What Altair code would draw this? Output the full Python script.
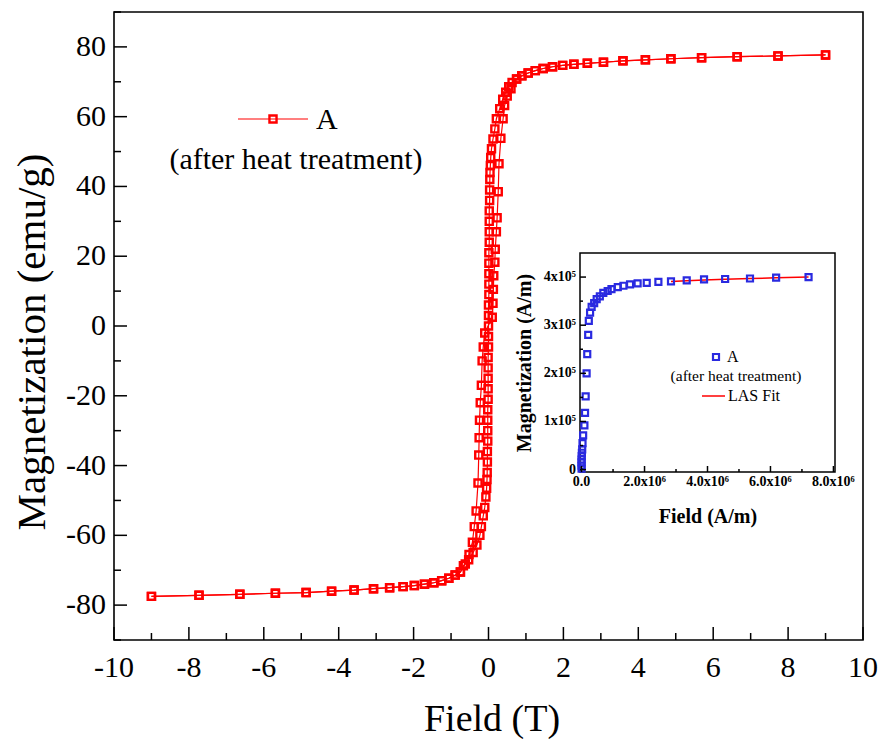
import altair as alt
import pandas as pd

# ---------------- main plot data (Field in T, Magnetization in emu/g) ----------------
tail_pos_H = [9.0, 7.73, 6.64, 5.69, 4.87, 4.19, 3.59, 3.07, 2.64, 2.28, 1.98, 1.71, 1.46, 1.25, 1.06, 0.89, 0.75]
tail_pos_M = [77.7, 77.4, 77.2, 76.9, 76.6, 76.3, 76.0, 75.6, 75.3, 75.0, 74.7, 74.3, 73.8, 73.2, 72.5, 71.7, 70.8]
tail_neg_H = [-0.75, -0.89, -1.06, -1.25, -1.46, -1.71, -1.98, -2.28, -2.64, -3.07, -3.59, -4.19, -4.87, -5.69, -6.64, -7.73, -9.0]
tail_neg_M = [-70.5, -71.4, -72.3, -73.0, -73.6, -74.0, -74.4, -74.7, -75.0, -75.3, -75.7, -76.0, -76.4, -76.6, -76.9, -77.2, -77.5]

core_dense_H = [0.63, 0.54, 0.46, 0.38, 0.30, 0.21, 0.17, 0.12, 0.08, 0.06, 0.05, 0.04, 0.035,
                0.03, 0.03, 0.02, 0.02, 0.02, 0.02, 0.01, 0.01, 0.01, 0.01, 0.01, 0.0, 0.0, 0.0,
                0.0, 0.0, -0.01, -0.01, -0.01, -0.01, -0.01, -0.02, -0.02, -0.02, -0.02, -0.03, -0.03,
                -0.035, -0.04, -0.05, -0.07, -0.10, -0.14, -0.19, -0.23, -0.31, -0.41, -0.53, -0.67]
core_dense_M = [69.8, 68.6, 67.0, 65.0, 62.3, 59.4, 56.5, 53.6, 50.8, 48.3, 46.0, 44.0, 42.0,
                39, 36, 33, 30, 27, 24, 21, 18, 15, 12, 9, 6, 3, 0,
                -3, -6, -9, -12, -15, -18, -21, -24, -27, -30, -33, -36, -39,
                -42.0, -44.0, -46.5, -49.0, -52.0, -54.4, -57.5, -60.0, -62.8, -64.9, -67.0, -68.7]

core_sparse_H = [-0.62, -0.52, -0.43, -0.38, -0.33, -0.28, -0.26, -0.25, -0.24, -0.22, -0.19, -0.17, -0.14, -0.10,
                 0.10, 0.12, 0.13, 0.14, 0.17, 0.18, 0.21, 0.23, 0.26, 0.28, 0.33, 0.39, 0.43, 0.50, 0.60]
core_sparse_M = [-68.2, -65.5, -62.0, -57.5, -53.0, -45.0, -37.0, -32.0, -27.0, -22.0, -17.0, -10.0, -6.0, -2.0,
                 2.5, 6.5, 10.5, 14.4, 18.3, 22.0, 27.0, 31.0, 38.5, 46.5, 53.8, 59.4, 63.2, 65.9, 68.0]

# ---------------- inset data (Field in 1e6 A/m, Magnetization in 1e5 A/m) ----------------
inset_H_1e6 = [0.0, 0.0, 0.0, 0.0, 0.005, 0.01, 0.02, 0.03, 0.05, 0.09, 0.11, 0.13, 0.16, 0.18, 0.21, 0.23,
               0.27, 0.32, 0.40, 0.48, 0.58, 0.69, 0.83, 0.95, 1.15, 1.33, 1.54, 1.78, 2.07, 2.44, 2.84,
               3.34, 3.89, 4.56, 5.35, 6.18, 7.21]
inset_M_1e5 = [0.02, 0.08, 0.15, 0.21, 0.28, 0.35, 0.42, 0.55, 0.71, 0.92, 1.18, 1.52, 2.00, 2.40, 2.80, 3.09,
               3.26, 3.38, 3.46, 3.54, 3.60, 3.67, 3.71, 3.75, 3.79, 3.82, 3.85, 3.87, 3.88, 3.90, 3.91,
               3.93, 3.95, 3.96, 3.97, 3.99, 4.00]
fit_H_1e6 = [2.84, 3.34, 3.89, 4.56, 5.35, 6.18, 7.21]
fit_M_1e5 = [3.908, 3.922, 3.937, 3.953, 3.968, 3.984, 4.000]

# ticks and tick labels
main_x_major = [-10, -8, -6, -4, -2, 0, 2, 4, 6, 8, 10]
main_x_labels = ["-10", "-8", "-6", "-4", "-2", "0", "2", "4", "6", "8", "10"]
main_x_minor = [-9, -7, -5, -3, -1, 1, 3, 5, 7, 9]
main_y_major = [-80, -60, -40, -20, 0, 20, 40, 60, 80]
main_y_labels = ["-80", "-60", "-40", "-20", "0", "20", "40", "60", "80"]
main_y_minor = [-90, -70, -50, -30, -10, 10, 30, 50, 70, 90]
inset_x_major = [0, 2e6, 4e6, 6e6, 8e6]
inset_x_labels = ["0.0", "2.0x10⁶", "4.0x10⁶", "6.0x10⁶", "8.0x10⁶"]
inset_x_minor = [1e6, 3e6, 5e6, 7e6]
inset_y_major = [0, 1e5, 2e5, 3e5, 4e5]
inset_y_labels = ["0", "1x10⁵", "2x10⁵", "3x10⁵", "4x10⁵"]
inset_y_minor = [0.5e5, 1.5e5, 2.5e5, 3.5e5]

RED = "#ff0000"
BLUE = "#2a2ae0"
FONT = "Liberation Serif"
W, H = 749, 628
PAD_L = 106
# inset frame in view pixels
IX0, IX1 = 466, 721
IY0, IY1 = 460, 241

# ---------------- build tables ----------------
desc_H = tail_pos_H + core_dense_H + tail_neg_H
desc_M = tail_pos_M + core_dense_M + tail_neg_M
asc_H = tail_neg_H[::-1] + core_sparse_H + tail_pos_H[::-1]
asc_M = tail_neg_M[::-1] + core_sparse_M + tail_pos_M[::-1]
main_df = pd.DataFrame({
    "H": desc_H + asc_H,
    "M": desc_M + asc_M,
    "branch": ["desc"] * len(desc_H) + ["asc"] * len(asc_H),
    "i": list(range(len(desc_H))) + list(range(len(asc_H))),
})
inset_df = pd.DataFrame({"H": [v * 1e6 for v in inset_H_1e6], "M": [v * 1e5 for v in inset_M_1e5]})
fit_df = pd.DataFrame({"H": [v * 1e6 for v in fit_H_1e6], "M": [v * 1e5 for v in fit_M_1e5]})

xs = alt.Scale(domain=[-10, 10], nice=False, zero=False)
ys = alt.Scale(domain=[-90, 90], nice=False, zero=False)
xi = alt.Scale(domain=[-0.05e6, 8.05e6], range=[IX0, IX1], nice=False, zero=False)
yi = alt.Scale(domain=[-5e3, 4.5e5], range=[IY0, IY1], nice=False, zero=False)


def vticks(vals, scale, y0, y1):
    return alt.Chart(pd.DataFrame({"v": vals})).mark_rule(color="black", strokeWidth=1.5).encode(
        x=alt.X("v:Q", scale=scale, axis=None), y=alt.value(y0), y2=alt.value(y1))


def hticks(vals, scale, x0, x1):
    return alt.Chart(pd.DataFrame({"v": vals})).mark_rule(color="black", strokeWidth=1.5).encode(
        y=alt.Y("v:Q", scale=scale, axis=None), x=alt.value(x0), x2=alt.value(x1))


def xlabels(vals, labels, scale, ypos, size, weight="normal"):
    return alt.Chart(pd.DataFrame({"v": vals, "t": labels})).mark_text(
        font=FONT, fontSize=size, fontWeight=weight, align="center", baseline="middle", color="black").encode(
        x=alt.X("v:Q", scale=scale, axis=None), y=alt.value(ypos), text="t:N")


def ylabels(vals, labels, scale, xpos, size, weight="normal"):
    return alt.Chart(pd.DataFrame({"v": vals, "t": labels})).mark_text(
        font=FONT, fontSize=size, fontWeight=weight, align="right", baseline="middle", color="black").encode(
        y=alt.Y("v:Q", scale=scale, axis=None), x=alt.value(xpos), text="t:N")


one = pd.DataFrame({"k": [0]})


def label(text, x, y, size, weight="normal", align="center", angle=0):
    return alt.Chart(one).mark_text(text=text, font=FONT, fontSize=size, fontWeight=weight, align=align,
                                    baseline="middle", angle=angle, color="black").encode(
        x=alt.value(x), y=alt.value(y))


# ---------------- main layers ----------------
main_line = alt.Chart(main_df).mark_line(color=RED, strokeWidth=1.2).encode(
    x=alt.X("H:Q", scale=xs, axis=None),
    y=alt.Y("M:Q", scale=ys, axis=None),
    detail="branch:N",
    order="i:Q",
)
main_pts = alt.Chart(main_df).mark_point(shape="square", filled=False, color=RED, size=50,
                                         strokeWidth=2.4, opacity=1).encode(
    x=alt.X("H:Q", scale=xs, axis=None),
    y=alt.Y("M:Q", scale=ys, axis=None),
)

leg_rule = alt.Chart(one).mark_rule(color=RED, strokeWidth=1.2).encode(
    x=alt.value(124), x2=alt.value(194), y=alt.value(107))
leg_pt = alt.Chart(one).mark_point(shape="square", filled=False, color=RED, size=50, strokeWidth=2.4,
                                   opacity=1).encode(x=alt.value(159), y=alt.value(107))

main = alt.layer(
    main_line, main_pts,
    vticks(main_x_major, xs, H, H - 13), vticks(main_x_minor, xs, H, H - 7),
    hticks(main_y_major, ys, 0, 13), hticks(main_y_minor, ys, 0, 7),
    xlabels(main_x_major, main_x_labels, xs, H + 28, 30),
    ylabels(main_y_major, main_y_labels, ys, -8, 30),
    label("Field (T)", 378, 708, 38),
    label("Magnetization (emu/g)", -81, 330, 41, angle=270),
    leg_rule, leg_pt,
    label("A", 202, 108, 30, align="left"),
    label("(after heat treatment)", 182, 148, 30),
)

# ---------------- inset layers ----------------
frame_df = pd.DataFrame({"x0": [-0.05e6], "x1": [8.05e6], "y0": [-5e3], "y1": [4.5e5]})
in_frame = alt.Chart(frame_df).mark_rect(fill="white", stroke="black", strokeWidth=1.5).encode(
    x=alt.X("x0:Q", scale=xi, axis=None), x2="x1:Q",
    y=alt.Y("y0:Q", scale=yi, axis=None), y2="y1:Q")
in_fit = alt.Chart(fit_df).mark_line(color=RED, strokeWidth=1.5).encode(
    x=alt.X("H:Q", scale=xi, axis=None), y=alt.Y("M:Q", scale=yi, axis=None))
in_pts = alt.Chart(inset_df).mark_point(shape="square", filled=False, color=BLUE, size=36,
                                        strokeWidth=2.2, opacity=1).encode(
    x=alt.X("H:Q", scale=xi, axis=None), y=alt.Y("M:Q", scale=yi, axis=None))
in_leg_pt = alt.Chart(one).mark_point(shape="square", filled=False, color=BLUE, size=36, strokeWidth=2.2,
                                      opacity=1).encode(x=alt.value(IX0 + 136), y=alt.value(345))
in_leg_rule = alt.Chart(one).mark_rule(color=RED, strokeWidth=1.5).encode(
    x=alt.value(IX0 + 122), x2=alt.value(IX0 + 145), y=alt.value(384))

inset = alt.layer(
    in_frame, in_fit, in_pts,
    vticks(inset_x_major, xi, IY0, IY0 - 6), vticks(inset_x_minor, xi, IY0, IY0 - 3),
    hticks(inset_y_major, yi, IX0, IX0 + 6), hticks(inset_y_minor, yi, IX0, IX0 + 3),
    xlabels(inset_x_major, inset_x_labels, xi, IY0 + 10, 14, "bold"),
    ylabels(inset_y_major, inset_y_labels, yi, IX0 - 4, 14, "bold"),
    label("Field (A/m)", IX0 + 128, 505, 20, "bold"),
    label("Magnetization (A/m)", IX0 - 55, 351, 20, "bold", angle=270),
    in_leg_pt,
    label("A", IX0 + 147, 345, 16, align="left"),
    label("(after heat treatment)", IX0 + 156, 364, 15.5),
    in_leg_rule,
    label("LAS Fit", IX0 + 148, 384, 16, align="left"),
)

chart = alt.layer(main, inset).resolve_scale(x="independent", y="independent").properties(
    width=W, height=H,
    autosize=alt.AutoSizeParams(type="none"),
    padding={"left": PAD_L, "top": 4, "right": 15, "bottom": 99},
    background="white",
).configure_view(stroke="black", strokeWidth=1.6)

chart.save("out.html", embed_options={"renderer": "svg", "actions": False})
